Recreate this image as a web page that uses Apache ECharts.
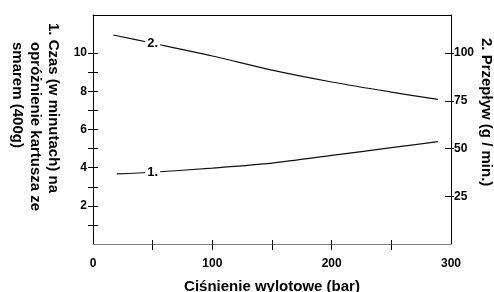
<!DOCTYPE html>
<html>
<head>
<meta charset="utf-8">
<script src="https://cdn.jsdelivr.net/npm/echarts@6/dist/echarts.min.js"></script>
<style>
  html, body { margin: 0; padding: 0; background: #fff; }
  #chart { width: 494px; height: 292px; }
</style>
</head>
<body>
<div id="chart"></div>
<script>
var FONT = 'Liberation Sans, Arial, sans-serif';

// curve 1: time to empty the cartridge (left axis, minutes)
var pressure1 = [20, 50, 100, 150, 200, 250, 289];
var czas = [3.67, 3.76, 3.98, 4.24, 4.64, 5.05, 5.36];

// curve 2: flow (right axis, g / min)
var pressure2 = [17, 50, 100, 150, 200, 250, 289];
var przeplyw = [109.5, 105.2, 98.5, 91.1, 84.9, 79.6, 75.8];

var xTicks = [50, 100, 150, 200, 250];
var xLabels = [0, 100, 200, 300];
var leftTicks = [1, 2, 3, 4, 5, 6, 7, 8, 9, 10];
var leftLabels = [2, 4, 6, 8, 10];
var rightTicks = [25, 50, 75, 100];

var LABEL_AT = 50; // pressure where the "1." / "2." tags sit

function curveData(xs, ys, tag) {
  return xs.map(function (x, i) {
    var item = { value: [x, ys[i]] };
    if (x === LABEL_AT) {
      item.label = {
        show: true, position: 'inside', formatter: tag,
        color: '#000', fontFamily: FONT, fontWeight: 'bold', fontSize: 13,
        backgroundColor: '#fff', padding: [0, 2]
      };
    }
    return item;
  });
}

var tickFont = { color: '#000', fontFamily: FONT, fontWeight: 'bold', fontSize: 12 };

function titleText(x, y, text) {
  return {
    type: 'text', x: x, y: y, rotation: -Math.PI / 2,
    style: {
      text: text, fill: '#000', font: 'bold 15px ' + FONT,
      textAlign: 'left', textVerticalAlign: 'top'
    }
  };
}

var chart = echarts.init(document.getElementById('chart'));

var option = {
  animation: false,
  grid: { left: 93, right: 43, top: 15, bottom: 48, containLabel: false, outerBoundsMode: 'none' },
  xAxis: [
    {
      type: 'value', min: 0, max: 300,
      name: 'Ciśnienie wylotowe (bar)', nameLocation: 'middle', nameGap: 35,
      nameTextStyle: { color: '#000', fontFamily: FONT, fontWeight: 'bold', fontSize: 15 },
      axisLine: { onZero: false, lineStyle: { color: '#808080', width: 1 } },
      axisTick: { length: 6, customValues: xTicks, lineStyle: { color: '#000' } },
      axisLabel: Object.assign({ margin: 14, customValues: xLabels }, tickFont),
      splitLine: { show: false }
    },
    {
      type: 'value', min: 0, max: 300, position: 'bottom',
      axisLine: { show: false, onZero: false },
      axisTick: { inside: true, length: 4, customValues: xTicks, lineStyle: { color: '#000' } },
      axisLabel: { show: false },
      splitLine: { show: false }
    },
    {
      type: 'value', min: 0, max: 300, position: 'top',
      axisLine: { show: true, onZero: false, lineStyle: { color: '#000', width: 1 } },
      axisTick: { show: false }, axisLabel: { show: false },
      splitLine: { show: false }
    }
  ],
  yAxis: [
    {
      type: 'value', min: 0, max: 12, position: 'left',
      axisLine: { show: true, onZero: false, lineStyle: { color: '#000', width: 1 } },
      axisTick: { show: true, length: 5, customValues: leftTicks, lineStyle: { color: '#000' } },
      axisLabel: Object.assign({ margin: 6, customValues: leftLabels }, tickFont),
      splitLine: { show: false }
    },
    {
      type: 'value', min: 0, max: 120, position: 'right',
      axisLine: { show: true, onZero: false, lineStyle: { color: '#000', width: 1 } },
      axisTick: { show: true, length: 3, customValues: rightTicks, lineStyle: { color: '#000' } },
      axisLabel: Object.assign({ margin: 3, customValues: rightTicks }, tickFont),
      splitLine: { show: false }
    },
    {
      type: 'value', min: 0, max: 12, position: 'left',
      axisLine: { show: false, onZero: false },
      axisTick: { show: true, inside: true, length: 5, customValues: leftTicks, lineStyle: { color: '#000' } },
      axisLabel: { show: false },
      splitLine: { show: false }
    },
    {
      type: 'value', min: 0, max: 120, position: 'right',
      axisLine: { show: false, onZero: false },
      axisTick: { show: true, inside: true, length: 6, customValues: rightTicks, lineStyle: { color: '#000' } },
      axisLabel: { show: false },
      splitLine: { show: false }
    }
  ],
  series: [
    {
      name: 'Czas', type: 'line', xAxisIndex: 0, yAxisIndex: 0,
      smooth: 0.3, showSymbol: true, symbol: 'circle', symbolSize: 0,
      lineStyle: { color: '#111', width: 1.2 },
      data: curveData(pressure1, czas, '1.')
    },
    {
      name: 'Przepływ', type: 'line', xAxisIndex: 0, yAxisIndex: 1,
      smooth: 0.3, showSymbol: true, symbol: 'circle', symbolSize: 0,
      lineStyle: { color: '#111', width: 1.2 },
      data: curveData(pressure2, przeplyw, '2.')
    }
  ],
  graphic: [
    titleText(61, 23, '1. Czas (w minutach) na'),
    titleText(43, 42, 'opróżnienie kartusza ze'),
    titleText(25, 42, 'smarem (400g)'),
    titleText(494, 38, '2. Przepływ (g / min.)')
  ]
};

chart.setOption(option);
</script>
</body>
</html>
